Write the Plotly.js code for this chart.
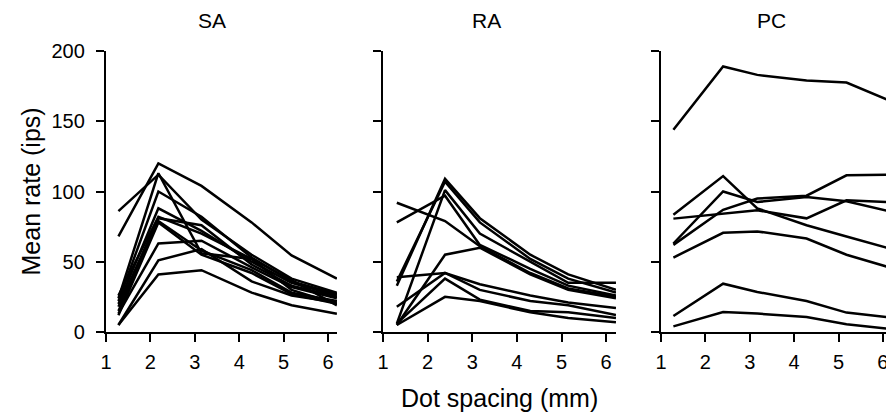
<!DOCTYPE html>
<html>
<head>
<meta charset="utf-8">
<script src="https://cdn.plot.ly/plotly-3.0.1.min.js"></script>
<style>html,body{margin:0;padding:0;background:#fff;}#chart{width:886px;height:415px;}</style>
</head>
<body>
<div id="chart"></div>
<script>
// Dot spacing (mm) at which each panel was sampled
const saX = [1.28, 2.18, 3.15, 4.28, 5.18, 6.2];
const raX = [1.31, 2.39, 3.17, 4.3, 5.15, 6.22];
const pcX = [1.28, 2.4, 3.17, 4.28, 5.18, 6.2];

// Mean rate (ips), one row per afferent
const saRates = [
  [68, 120, 104, 78, 54.5, 38],
  [86, 112, 80, 55, 38, 28],
  [24, 113, 56, 52, 30, 20],
  [22, 100, 82, 53, 36, 27],
  [20, 88, 72, 50, 35, 26],
  [18, 81, 76, 48, 33, 25],
  [15, 79, 58, 44, 28, 22],
  [13, 63, 65, 46, 32, 24],
  [5, 51, 59, 36, 26, 21],
  [5, 41, 44, 28, 19, 13],
  [26, 82, 70, 52, 37, 19],
  [12, 78, 55, 42, 27, 20]
];
const raRates = [
  [33, 109, 81, 55, 41, 30],
  [36, 107, 78, 52, 38, 28],
  [6, 101, 70, 50, 35, 35],
  [78, 97, 62, 45, 33, 26],
  [92, 79, 61, 42, 31, 25],
  [5, 55, 60, 41, 30, 24],
  [39, 42, 34, 26, 21, 17],
  [18, 42, 30, 22, 19, 12],
  [6, 38, 23, 15, 14, 10],
  [5, 25, 22, 14, 10, 7]
];
const pcRates = [
  [144, 189, 183, 179, 177.5, 164],
  [83.5, 111, 88, 76, 68, 59],
  [63, 100, 92.5, 96, 93, 85.5],
  [62, 87, 95, 97, 111.5, 112],
  [80.7, 84.3, 86.6, 80.9, 93.7, 92.4],
  [53, 70.6, 71.6, 66.5, 55, 45.5],
  [11.4, 34.4, 28.5, 22, 13.8, 10.3],
  [4, 14.2, 13.1, 10.7, 5.5, 2]
];

const panelTitles = ['SA', 'RA', 'PC'];
const xTickVals = [1, 2, 3, 4, 5, 6];
const yTickVals = [0, 50, 100, 150, 200];
const yTitle = 'Mean rate (ips)';
const xTitle = 'Dot spacing (mm)';

const FONT = 'Liberation Sans, Arial, Helvetica, sans-serif';
const traces = [];
function addPanel(xs, rows, axisIdx) {
  const suffix = axisIdx === 1 ? '' : String(axisIdx);
  rows.forEach(r => {
    traces.push({
      x: xs, y: r, type: 'scatter', mode: 'lines',
      line: {color: '#000', width: 2.5},
      xaxis: 'x' + suffix, yaxis: 'y' + suffix,
      hoverinfo: 'skip', showlegend: false
    });
  });
}
addPanel(saX, saRates, 1);
addPanel(raX, raRates, 2);
addPanel(pcX, pcRates, 3);

function xa(domain, range, anchor) {
  return {
    domain: domain, range: range, anchor: anchor,
    tickvals: xTickVals, ticks: 'outside', ticklen: 8, tickwidth: 2, tickcolor: '#000',
    showline: true, linecolor: '#000', linewidth: 2.2,
    showgrid: false, zeroline: false,
    tickfont: {family: FONT, size: 20, color: '#000'},
    ticklabelstandoff: 3, ticklabeloverflow: 'allow', fixedrange: true
  };
}
function ya(anchor, showLabels) {
  return {
    domain: [0, 1], range: [0, 200], anchor: anchor,
    tickvals: yTickVals, ticks: 'outside', ticklen: 8, tickwidth: 2, tickcolor: '#000',
    showline: true, linecolor: '#000', linewidth: 2.2,
    showgrid: false, zeroline: false, showticklabels: showLabels,
    tickfont: {family: FONT, size: 20, color: '#000'},
    ticklabelstandoff: 7, fixedrange: true
  };
}

const layout = {
  width: 886, height: 415,
  margin: {l: 106, r: 0, t: 51, b: 83},
  paper_bgcolor: '#fff', plot_bgcolor: '#fff',
  showlegend: false,
  xaxis: xa([0, 0.296], [1, 6.2], 'y'),
  yaxis: ya('x', true),
  xaxis2: xa([0.3551, 0.6538], [1, 6.22], 'y2'),
  yaxis2: ya('x2', false),
  xaxis3: xa([0.7115, 1], [1, 6.07], 'y3'),
  yaxis3: ya('x3', false),
  annotations: [
    {text: panelTitles[0], xref: 'x', yref: 'paper', x: 3.38, y: 1.109, showarrow: false,
     xanchor: 'center', yanchor: 'middle', font: {family: FONT, size: 21, color: '#000'}},
    {text: panelTitles[1], xref: 'x2', yref: 'paper', x: 3.31, y: 1.109, showarrow: false,
     xanchor: 'center', yanchor: 'middle', font: {family: FONT, size: 21, color: '#000'}},
    {text: panelTitles[2], xref: 'x3', yref: 'paper', x: 3.48, y: 1.109, showarrow: false,
     xanchor: 'center', yanchor: 'middle', font: {family: FONT, size: 21, color: '#000'}},
    {text: yTitle, xref: 'paper', yref: 'paper', x: 0, xshift: -76, y: 0.5, textangle: -90,
     showarrow: false, xanchor: 'center', yanchor: 'middle', font: {family: FONT, size: 25, color: '#000'}},
    {text: xTitle, xref: 'paper', yref: 'paper', x: 0.505, y: -0.236, showarrow: false,
     xanchor: 'center', yanchor: 'middle', font: {family: FONT, size: 25, color: '#000'}}
  ]
};

Plotly.newPlot('chart', traces, layout, {staticPlot: true, displayModeBar: false});
</script>
</body>
</html>
